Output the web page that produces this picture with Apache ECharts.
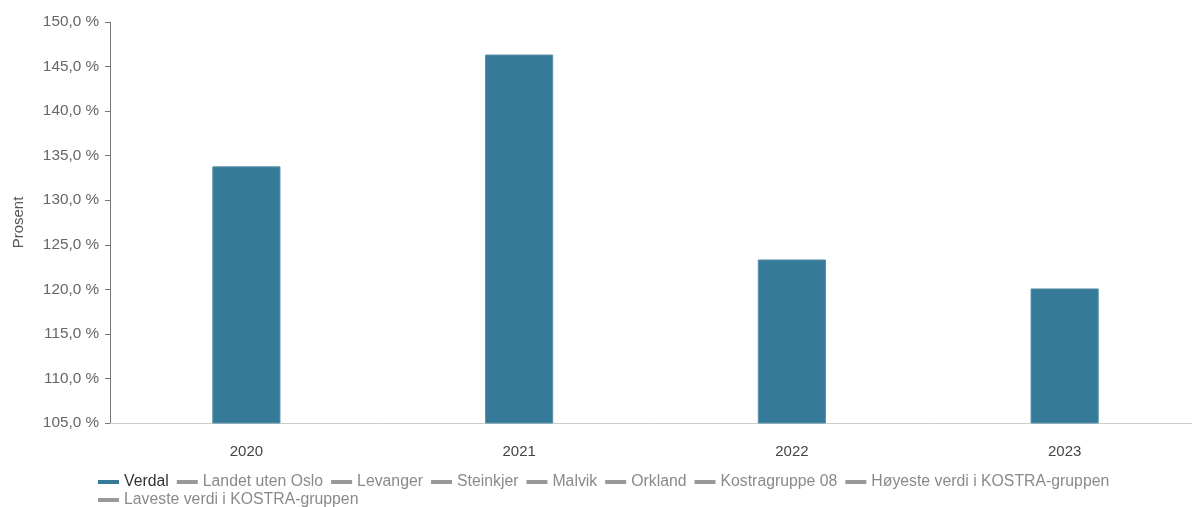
<!DOCTYPE html>
<html lang="no">
    <head>
        <meta charset="UTF-8">
        <title>Verdal - Prosent</title>
        <style>
            *{
                margin: 0;
                padding: 0;
            }
            body{
                font-family: "Liberation Sans", Arial, sans-serif;
                background: #ffffff;
                overflow: hidden;
            }
            #chart{
                width: 1201px;
                height: 507px;
            }
        </style>
        <script src="https://cdn.jsdelivr.net/npm/echarts@6/dist/echarts.min.js"></script>
    </head>
    <body>
        <div id="chart"></div>
        <script>
            // data
            var years = ['2020', '2021', '2022', '2023'];
            var verdal = [133.8, 146.35, 123.35, 120.1];
            var otherNames = ['Landet uten Oslo', 'Levanger', 'Steinkjer', 'Malvik', 'Orkland',
                'Kostragruppe 08', 'Høyeste verdi i KOSTRA-gruppen', 'Laveste verdi i KOSTRA-gruppen'];

            var chart = echarts.init(document.getElementById('chart'));

            var series = [{
                name: 'Verdal',
                type: 'bar',
                barWidth: '25%',
                data: verdal,
                itemStyle: {
                    color: '#367a99',
                    borderColor: '#5a90aa',
                    borderWidth: 1
                }
            }];
            otherNames.forEach(function (n) {
                series.push({
                    name: n,
                    type: 'line',
                    data: [],
                    itemStyle: { color: '#999999' },
                    lineStyle: { color: '#999999' }
                });
            });

            // legend split over two rows like the original
            var row1 = [{ name: 'Verdal', textStyle: { color: '#333333' } }];
            otherNames.slice(0, 7).forEach(function (n) {
                row1.push({ name: n });
            });
            var row2 = otherNames.slice(7);

            function legendRow(top, data) {
                return {
                    left: 98,
                    top: top,
                    icon: 'rect',
                    itemWidth: 21,
                    itemHeight: 4,
                    itemGap: 8,
                    padding: 0,
                    itemStyle: { borderWidth: 0 },
                    textStyle: {
                        color: '#8a8a8a',
                        fontSize: 15.8,
                        padding: [0, 0, 0, 0]
                    },
                    data: data
                };
            }

            var option = {
                animation: false,
                textStyle: {
                    fontFamily: '"Liberation Sans", Arial, sans-serif'
                },
                grid: {
                    left: 110,
                    top: 22,
                    bottom: 84,
                    right: 0
                },
                legend: [legendRow(474, row1), legendRow(492, row2)],
                xAxis: {
                    type: 'category',
                    data: years,
                    axisLine: { lineStyle: { color: '#cccccc' } },
                    axisTick: { length: 5, lineStyle: { color: '#cccccc' } },
                    axisLabel: {
                        color: '#444444',
                        fontSize: 15,
                        margin: 21
                    }
                },
                yAxis: {
                    type: 'value',
                    min: 105,
                    max: 150,
                    interval: 5,
                    name: 'Prosent',
                    nameLocation: 'middle',
                    nameGap: 84,
                    nameTextStyle: { color: '#555555', fontSize: 15 },
                    axisLine: { show: true, lineStyle: { color: '#777777' } },
                    axisTick: { show: true, length: 5, lineStyle: { color: '#777777' } },
                    splitLine: { show: false },
                    axisLabel: {
                        color: '#666666',
                        fontSize: 15.3,
                        margin: 11,
                        formatter: function (v) {
                            return v.toFixed(1).replace('.', ',') + ' %';
                        }
                    }
                },
                series: series
            };
            chart.setOption(option);

            window.onresize = function () {
                chart.resize();
            };
        </script>
    </body>
</html>
